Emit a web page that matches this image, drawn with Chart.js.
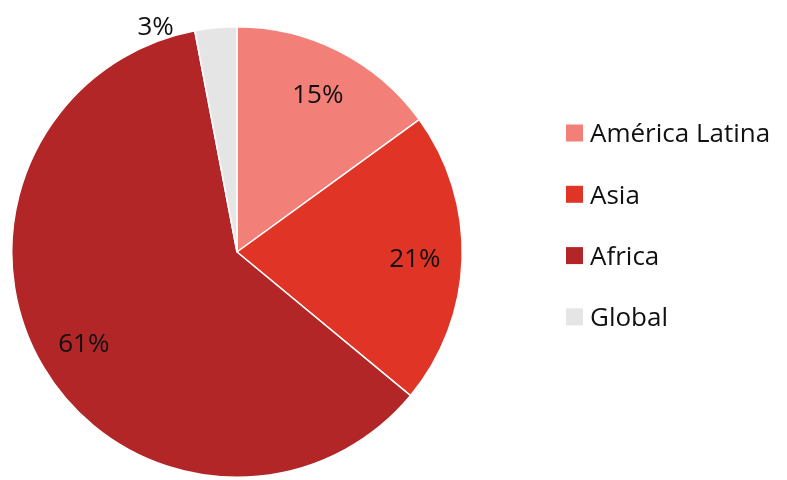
<!DOCTYPE html>
<html>
<head>
<meta charset="utf-8">
<script src="https://cdn.jsdelivr.net/npm/chart.js@4"></script>
<style>
  html, body { margin: 0; padding: 0; background: #fff; }
  #wrap { width: 787px; height: 480px; position: relative; }
</style>
</head>
<body>
<div id="wrap"><canvas id="pieChart"></canvas></div>
<script>
const regions = ['América Latina', 'Asia', 'Africa', 'Global'];
const shares = [15, 21, 61, 3];
const colors = ['#f27f78', '#e03526', '#b22627', '#e5e5e5'];

const FONT = '"Open Sans", Lato, sans-serif';

// percentage labels on each slice, small slices go outside
const sliceLabels = {
  id: 'sliceLabels',
  afterDatasetsDraw(chart) {
    const ctx = chart.ctx;
    const arcs = chart.getDatasetMeta(0).data;
    ctx.save();
    ctx.font = '500 26px ' + FONT;
    ctx.fillStyle = '#111';
    ctx.textAlign = 'center';
    ctx.textBaseline = 'middle';
    arcs.forEach((arc, i) => {
      const p = arc.getProps(['x', 'y', 'startAngle', 'endAngle', 'outerRadius']);
      let mid = (p.startAngle + p.endAngle) / 2;
      let r = p.outerRadius * 0.79;
      if (shares[i] < 5) {
        mid -= 0.25;
        r = p.outerRadius * 1.07;
      }
      ctx.fillText(shares[i] + '%', p.x + Math.cos(mid) * r, p.y + Math.sin(mid) * r + 2);
    });
    ctx.restore();
  }
};

// legend on the right, drawn next to the pie
const sideLegend = {
  id: 'sideLegend',
  afterDraw(chart) {
    const ctx = chart.ctx;
    const x0 = chart.chartArea.right + 103;
    const y0 = chart.chartArea.top + 107;
    ctx.save();
    ctx.font = '500 26px ' + FONT;
    ctx.textBaseline = 'middle';
    ctx.textAlign = 'left';
    regions.forEach((name, i) => {
      const y = y0 + i * 61.3;
      ctx.fillStyle = colors[i];
      ctx.fillRect(x0, y - 8.5, 17, 17);
      ctx.fillStyle = '#111';
      ctx.fillText(name, x0 + 24, y + 2);
    });
    ctx.restore();
  }
};

new Chart(document.getElementById('pieChart'), {
  type: 'pie',
  data: {
    labels: regions,
    datasets: [{
      data: shares,
      backgroundColor: colors,
      borderColor: '#fff',
      borderWidth: 1.5
    }]
  },
  options: {
    responsive: true,
    maintainAspectRatio: false,
    animation: false,
    layout: { padding: { left: 11, top: 26, right: 324, bottom: 2 } },
    plugins: { legend: { display: false }, tooltip: { enabled: false } }
  },
  plugins: [sliceLabels, sideLegend]
});
</script>
</body>
</html>
